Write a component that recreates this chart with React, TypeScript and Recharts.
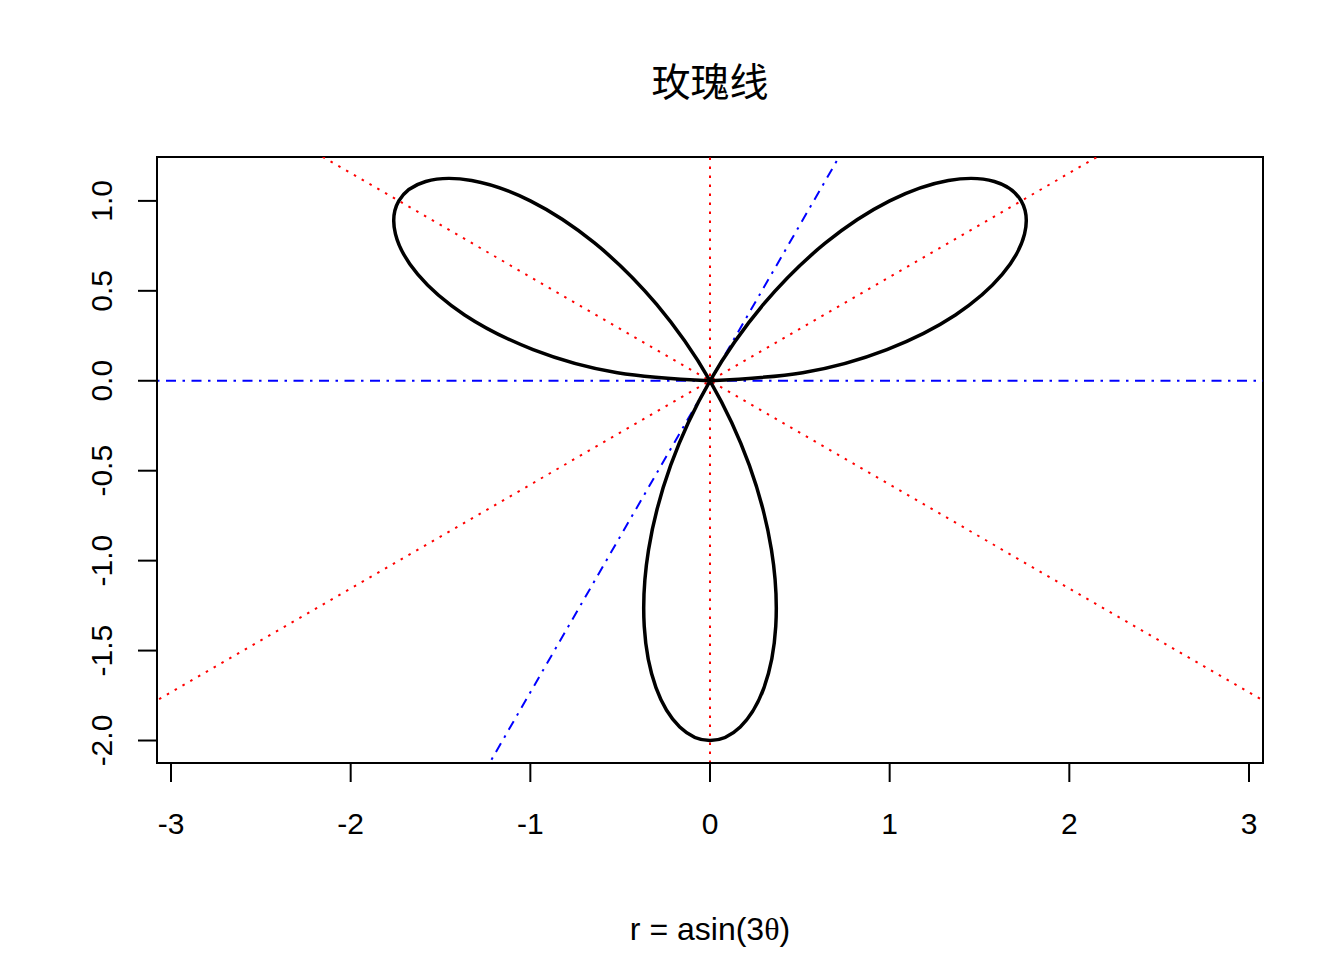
import React from "react";
import { LineChart, Line, XAxis, YAxis, ReferenceLine, ReferenceArea } from "recharts";

// rose curve points (theta stepping ~5 degrees)
const roseX = [
  0, 0.5156, 0.9848, 1.366, 1.6276, 1.7509, 1.7321, 1.5825, 1.3268, 1.0, 0.6428, 0.2969,
  0, -0.2187, -0.342, -0.366, -0.3008, -0.1684, 0, 0.1684, 0.3008, 0.366, 0.342, 0.2187,
  0, -0.2969, -0.6428, -1.0, -1.3268, -1.5825, -1.7321, -1.7509, -1.6276, -1.366, -0.9848, -0.5156, 0,
];
const roseY = [
  0, 0.0451, 0.1736, 0.366, 0.5924, 0.8165, 1.0, 1.1081, 1.1133, 1.0, 0.766, 0.424,
  0, -0.4691, -0.9397, -1.366, -1.7057, -1.9245, -2.0, -1.9245, -1.7057, -1.366, -0.9397, -0.4691,
  0, 0.424, 0.766, 1.0, 1.1133, 1.1081, 1.0, 0.8165, 0.5924, 0.366, 0.1736, 0.0451, 0,
];

const xTicks = [-3, -2, -1, 0, 1, 2, 3];
const yTicks = [-2, -1.5, -1, -0.5, 0, 0.5, 1];
const xDomain = [-3.078, 3.078];
const yDomain = [-2.125, 1.244];

// guide lines through the origin
const redRays = [
  [{ x: -3.5, y: -2.0207 }, { x: 3.5, y: 2.0207 }],
  [{ x: -3.5, y: 2.0207 }, { x: 3.5, y: -2.0207 }],
];
const blueRays = [[{ x: -1.5, y: -2.598 }, { x: 1.5, y: 2.598 }]];

const rose = roseX.map((x, i) => ({ x, y: roseY[i] }));

const tickFont = "'Liberation Sans', Arial, sans-serif";
const dotted = "2.5 6.5";
const dashDot = "2.5 6.5 10 6.5";

function XTick(props: any) {
  const { x, y, payload } = props;
  return (
    <text x={x} y={y + 39} textAnchor="middle" dominantBaseline="central" fontFamily={tickFont} fontSize={30} fill="#000">
      {payload.value}
    </text>
  );
}

function YTick(props: any) {
  const { x, y, payload } = props;
  const cx = x - 34;
  return (
    <text
      x={cx}
      y={y}
      transform={`rotate(-90 ${cx} ${y})`}
      textAnchor="middle"
      dominantBaseline="central"
      fontFamily={tickFont}
      fontSize={30}
      fill="#000"
    >
      {Number(payload.value).toFixed(1)}
    </text>
  );
}

export default function App() {
  return (
    <div style={{ position: "absolute", left: 0, top: 0, width: 1344, height: 960, background: "#fff" }}>
      <div
        style={{
          position: "absolute",
          left: 0,
          width: 1420,
          top: 54,
          textAlign: "center",
          fontFamily: "'Noto Sans CJK SC', sans-serif",
          fontSize: 39,
          lineHeight: "50px",
          color: "#000",
        }}
      >
        玫瑰线
      </div>
      <LineChart width={1344} height={960} margin={{ top: 157, right: 81, bottom: 137, left: 97 }}>
        <XAxis
          type="number"
          dataKey="x"
          domain={xDomain}
          allowDataOverflow
          ticks={xTicks}
          height={60}
          tickSize={19}
          tick={<XTick />}
          axisLine={{ stroke: "#000", strokeWidth: 2 }}
          tickLine={{ stroke: "#000", strokeWidth: 2 }}
        />
        <YAxis
          type="number"
          dataKey="y"
          domain={yDomain}
          allowDataOverflow
          ticks={yTicks}
          width={60}
          tickSize={19}
          tick={<YTick />}
          axisLine={{ stroke: "#000", strokeWidth: 2 }}
          tickLine={{ stroke: "#000", strokeWidth: 2 }}
        />
        <ReferenceArea
          x1={xDomain[0]}
          x2={xDomain[1]}
          y1={yDomain[0]}
          y2={yDomain[1]}
          fill="none"
          fillOpacity={0}
          stroke="#000"
          strokeWidth={2}
          strokeOpacity={1}
          ifOverflow="visible"
        />
        <ReferenceLine x={0} stroke="#ff0000" strokeWidth={2} strokeDasharray={dotted} />
        <ReferenceLine y={0} stroke="#0000ff" strokeWidth={2} strokeDasharray={dashDot} />
        {redRays.map((seg, i) => (
          <ReferenceLine key={`r${i}`} segment={seg} ifOverflow="hidden" stroke="#ff0000" strokeWidth={2} strokeDasharray={dotted} />
        ))}
        {blueRays.map((seg, i) => (
          <ReferenceLine key={`b${i}`} segment={seg} ifOverflow="hidden" stroke="#0000ff" strokeWidth={2} strokeDasharray={dashDot} />
        ))}
        <Line
          data={rose}
          dataKey="y"
          type="natural"
          stroke="#000"
          strokeWidth={3.5}
          dot={false}
          isAnimationActive={false}
        />
      </LineChart>
      <div
        style={{
          position: "absolute",
          left: 0,
          width: 1420,
          top: 908,
          textAlign: "center",
          fontFamily: tickFont,
          fontSize: 32,
          lineHeight: "42px",
          color: "#000",
          whiteSpace: "pre",
        }}
      >
        r = asin(3<span style={{ fontFamily: "'Liberation Serif', serif" }}>θ</span>)
      </div>
    </div>
  );
}
